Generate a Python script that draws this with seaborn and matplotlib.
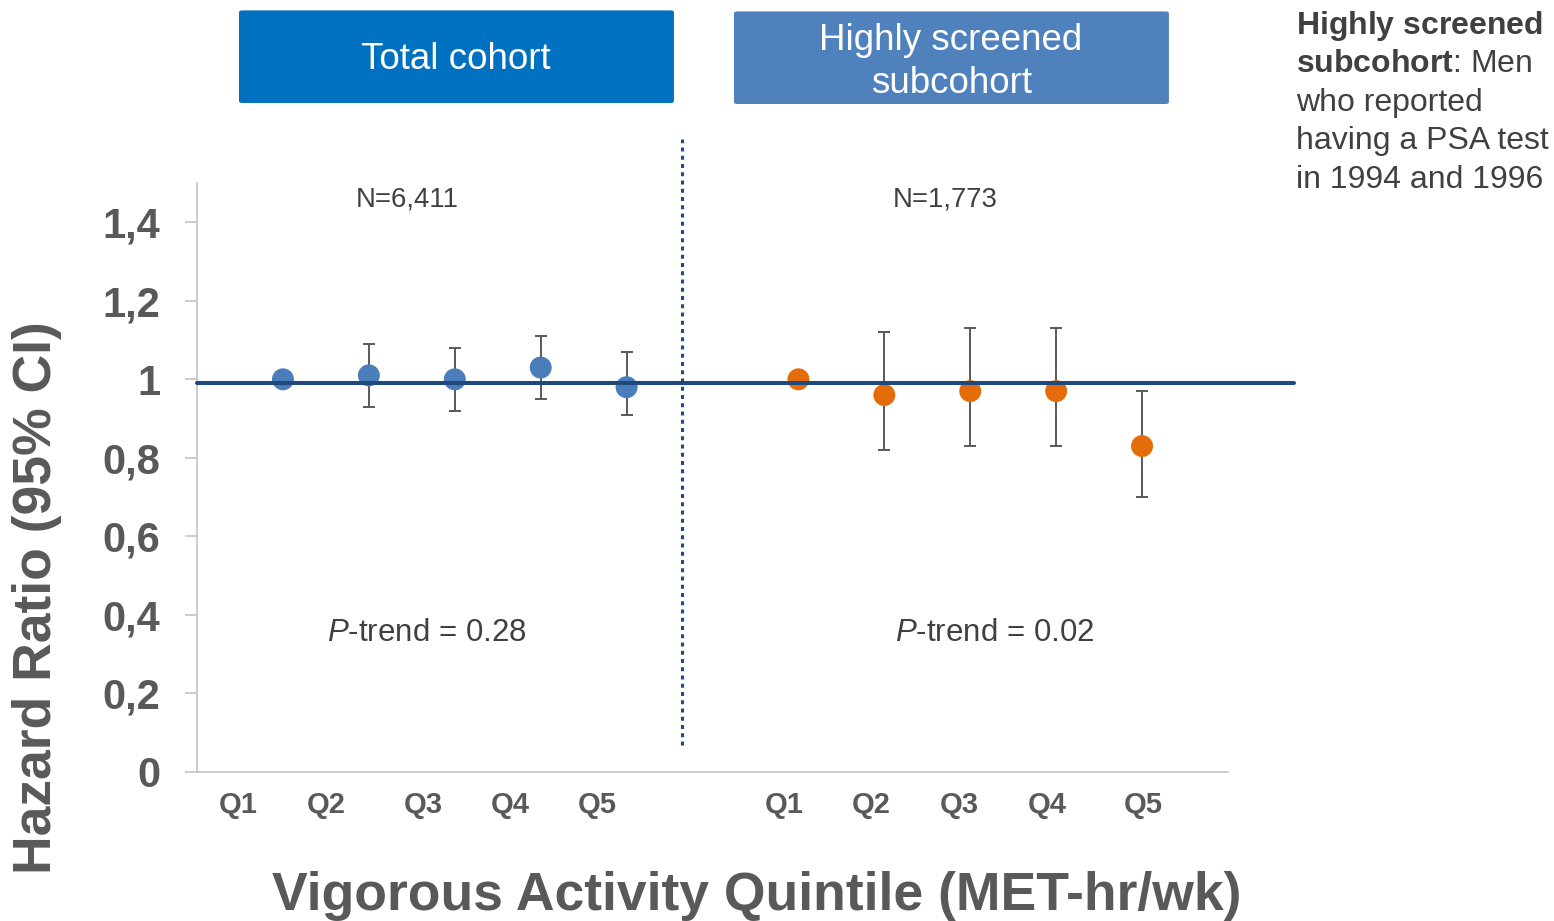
import numpy as np
import pandas as pd
import matplotlib
matplotlib.use("Agg")
import matplotlib.pyplot as plt
import seaborn as sns
from matplotlib.patches import FancyBboxPatch

# ---------------- data ----------------
quintiles = ["Q1", "Q2", "Q3", "Q4", "Q5"]
total_hr = [1.00, 1.01, 1.00, 1.03, 0.98]
total_lo = [np.nan, 0.93, 0.92, 0.95, 0.91]
total_hi = [np.nan, 1.09, 1.08, 1.11, 1.07]
sub_hr = [1.00, 0.96, 0.97, 0.97, 0.83]
sub_lo = [np.nan, 0.82, 0.83, 0.83, 0.70]
sub_hi = [np.nan, 1.12, 1.13, 1.13, 0.97]
cohorts = ["Total cohort", "Highly screened subcohort"]
header_labels = ["Total cohort", "Highly screened\nsubcohort"]
n_labels = ["N=6,411", "N=1,773"]
p_trend = ["0.28", "0.02"]
ref_hr = 0.99
y_ticks = [0, 0.2, 0.4, 0.6, 0.8, 1.0, 1.2, 1.4]
y_tick_labels = ["0", "0,2", "0,4", "0,6", "0,8", "1", "1,2", "1,4"]
y_label = "Hazard Ratio (95% CI)"
x_label = "Vigorous Activity Quintile (MET-hr/wk)"

# ---------------- build table ----------------
rows = []
for ci, (hr, lo, hi) in enumerate([(total_hr, total_lo, total_hi), (sub_hr, sub_lo, sub_hi)]):
    for qi, q in enumerate(quintiles):
        rows.append({"cohort": cohorts[ci], "quintile": q,
                     "pos": 1 + qi + 6 * ci, "hr": hr[qi], "lo": lo[qi], "hi": hi[qi]})
df = pd.DataFrame(rows)

# ---------------- style ----------------
sns.set_theme(style="white")
plt.rcParams["font.family"] = ["Liberation Sans", "DejaVu Sans"]
plt.rcParams["mathtext.fontset"] = "custom"
plt.rcParams["mathtext.rm"] = "Liberation Sans"
plt.rcParams["mathtext.it"] = "Liberation Sans:italic"
plt.rcParams["mathtext.bf"] = "Liberation Sans:bold"

GRAY = "#595959"
DARK = "#404040"
NAVY = "#1F497D"
palette = {cohorts[0]: "#4A7EBB", cohorts[1]: "#E46C0A"}

fig = plt.figure(figsize=(15.54, 9.21), dpi=100)
ax = fig.add_axes([0.1268, 0.1618, 0.6634, 0.6395])

# error bars (skip reference category)
eb = df.dropna(subset=["lo", "hi"])
ax.errorbar(eb["pos"], eb["hr"], yerr=[eb["hr"] - eb["lo"], eb["hi"] - eb["hr"]],
            fmt="none", ecolor=GRAY, elinewidth=1.4, capsize=4.3, capthick=1.4, zorder=2)

sns.scatterplot(data=df, x="pos", y="hr", hue="cohort", palette=palette, s=250,
                edgecolor="none", linewidth=0, legend=False, ax=ax, zorder=3)

ax.axhline(ref_hr, xmin=0, xmax=1.064, color=NAVY, lw=2.9, zorder=4, clip_on=False)
ax.axvline(5.65, ymin=0.046, ymax=1.075, color=NAVY, lw=2.2,
           linestyle=(0, (1.3, 1.4)), dash_capstyle="butt", zorder=4, clip_on=False)

ax.set_xlim(0, 12)
ax.set_ylim(0, 1.5)
ax.set_yticks(y_ticks)
ax.set_yticklabels(y_tick_labels, fontsize=30, fontweight="bold", color=GRAY)
label_pos = [0.48, 1.5, 2.63, 3.64, 4.66, 6.83, 7.85, 8.87, 9.9, 11.01]
ax.set_xticks(label_pos)
ax.set_xticklabels(quintiles + quintiles, fontsize=21, fontweight="bold", color=GRAY)
ax.tick_params(axis="y", direction="out", length=8.6, width=1.1, color="#BFBFBF", pad=18, left=True)
ax.tick_params(axis="x", length=0, pad=14)
ax.set_xlabel("")
ax.set_ylabel("")
for s in ["top", "right"]:
    ax.spines[s].set_visible(False)
for s in ["left", "bottom"]:
    ax.spines[s].set_color("#BFBFBF")
    ax.spines[s].set_linewidth(1.1)

# annotations inside axes
for i, (nx, px) in enumerate([(2.45, 2.67), (8.71, 9.28)]):
    ax.text(nx, 1.458, n_labels[i], ha="center", va="center", fontsize=19.8, color=DARK)
    ax.text(px, 0.353, r"$\it{P}$-trend = " + p_trend[i], ha="center", va="center",
            fontsize=22.5, color=DARK)

# header boxes
boxes = [(0.1538, 0.8882, "#0070C0", 0.2934, 0.935), (0.4723, 0.8871, "#4F81BD", 0.612, 0.933)]
for (bx, by, col, tx, ty), lab in zip(boxes, header_labels):
    fig.patches.append(FancyBboxPatch((bx, by), 0.2799, 0.1005,
                                      boxstyle="round,pad=0,rounding_size=0.002",
                                      transform=fig.transFigure, facecolor=col,
                                      edgecolor="none", figure=fig))
    fig.text(tx, ty, lab, ha="center", va="center", fontsize=26.5, color="white",
             linespacing=1.3)

# side note
note_lines = [r"$\bf{Highly\ screened}$", r"$\bf{subcohort}$: Men", "who reported",
              "having a PSA test", "in 1994 and 1996"]
for k, line in enumerate(note_lines):
    fig.text(1296 / 1554, 1 - (34 + 38.5 * k) / 921, line, ha="left", va="baseline",
             fontsize=23, color=DARK)

fig.text(37 / 1554, 1 - 598 / 921, y_label, rotation=90, ha="center", va="center",
         fontsize=38.5, fontweight="bold", color=GRAY)
fig.text(757 / 1554, 1 - 896 / 921, x_label, ha="center", va="center",
         fontsize=38.5, fontweight="bold", color=GRAY)

fig.savefig("out.png", dpi=100)
